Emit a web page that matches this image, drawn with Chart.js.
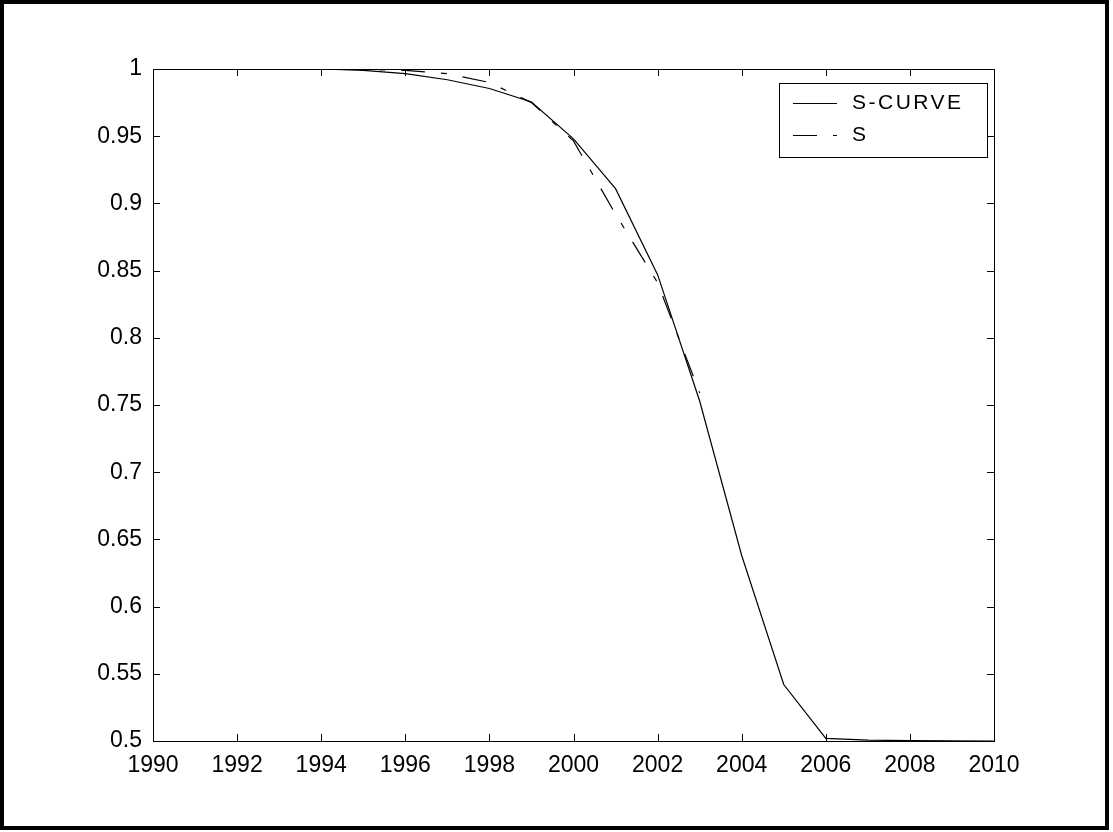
<!DOCTYPE html>
<html>
<head>
<meta charset="utf-8">
<script src="https://cdn.jsdelivr.net/npm/chart.js@4"></script>
<style>
  html, body { margin: 0; padding: 0; background: #fff; }
  #wrap { position: relative; width: 1113px; height: 832px; }
</style>
</head>
<body>
<div id="wrap"><canvas id="sChart"></canvas></div>
<script>
// values, one point per year
const years = [1990, 1991, 1992, 1993, 1994, 1995, 1996, 1997, 1998, 1999, 2000,
               2001, 2002, 2003, 2004, 2005, 2006, 2007, 2008, 2009, 2010];
const sCurve = [1.0, 1.0, 1.0, 1.0, 1.0, 0.999, 0.9965, 0.992, 0.9855, 0.9755, 0.948,
                0.911, 0.847, 0.753, 0.638, 0.542, 0.502, 0.5006, 0.5003, 0.5001, 0.5];
// the dashed series stops at 2003
const sValues = [1.0, 1.0, 1.0, 1.0, 1.0, 0.9998, 0.999, 0.9965, 0.990, 0.975, 0.9465,
                 0.892, 0.841, 0.759];
const xTicks = [1990, 1992, 1994, 1996, 1998, 2000, 2002, 2004, 2006, 2008, 2010];
const seriesNames = ['S-CURVE', 'S'];

const FONT = "'Liberation Sans', Arial, Helvetica, sans-serif";

function toPoints(xs, ys) {
  return ys.map((y, i) => ({ x: xs[i], y: y }));
}

// white page + thick black frame round the whole figure
const framePlugin = {
  id: 'frame',
  beforeDraw(chart) {
    const c = chart.ctx;
    c.save();
    c.fillStyle = '#fff';
    c.fillRect(0, 0, chart.width, chart.height);
    c.restore();
  },
  afterDraw(chart) {
    const c = chart.ctx;
    c.save();
    c.strokeStyle = '#000';
    c.lineWidth = 4;
    c.strokeRect(2, 2, 1105, 826);
    c.restore();
  }
};

// matlab style box with ticks pointing inward on all four sides
const boxPlugin = {
  id: 'axesBox',
  afterDatasetsDraw(chart) {
    const { ctx: c, chartArea: a, scales } = chart;
    const len = 7;
    c.save();
    c.strokeStyle = '#000';
    c.lineWidth = 1;
    c.strokeRect(a.left + 0.5, a.top + 0.5, a.right - a.left, a.bottom - a.top);
    c.beginPath();
    scales.x.ticks.forEach(t => {
      const px = Math.round(scales.x.getPixelForValue(t.value)) + 0.5;
      c.moveTo(px, a.bottom); c.lineTo(px, a.bottom - len);
      c.moveTo(px, a.top); c.lineTo(px, a.top + len);
    });
    scales.y.ticks.forEach(t => {
      const py = Math.round(scales.y.getPixelForValue(t.value)) + 0.5;
      c.moveTo(a.left, py); c.lineTo(a.left + len, py);
      c.moveTo(a.right, py); c.lineTo(a.right - len, py);
    });
    c.stroke();
    c.restore();
  }
};

// legend drawn as a boxed inset in the top right of the plot
const insetLegend = {
  id: 'insetLegend',
  afterDraw(chart) {
    const { ctx: c, chartArea: a } = chart;
    const w = 208, h = 74;
    const x0 = a.right - 7 - w, y0 = a.top + 14;
    c.save();
    c.fillStyle = '#fff';
    c.fillRect(x0, y0, w, h);
    c.strokeStyle = '#000';
    c.lineWidth = 1;
    c.strokeRect(x0 + 0.5, y0 + 0.5, w, h);
    c.font = '21px ' + FONT;
    c.letterSpacing = '2.5px';
    c.textBaseline = 'middle';
    c.fillStyle = '#000';
    chart.data.datasets.forEach((ds, i) => {
      const y = y0 + 20 + i * 32 + 0.5;
      c.setLineDash(ds.borderDash || []);
      c.beginPath();
      c.moveTo(x0 + 14, y);
      c.lineTo(x0 + 58, y);
      c.stroke();
      c.setLineDash([]);
      c.fillText(ds.label, x0 + 73, y);
    });
    c.restore();
  }
};

const ctx = document.getElementById('sChart').getContext('2d');
const sChart = new Chart(ctx, {
  type: 'line',
  data: {
    datasets: [{
      label: seriesNames[0],
      data: toPoints(years, sCurve),
      borderColor: '#000',
      borderWidth: 1.2,
      pointRadius: 0,
      tension: 0
    }, {
      label: seriesNames[1],
      data: toPoints(years, sValues),
      borderColor: '#000',
      borderWidth: 1.2,
      borderDash: [24, 16, 6, 16],
      pointRadius: 0,
      tension: 0
    }]
  },
  options: {
    responsive: true,
    maintainAspectRatio: false,
    animation: false,
    layout: { padding: { left: 0, top: 69, right: 119, bottom: 0 } },
    plugins: {
      legend: { display: false },
      tooltip: { enabled: false }
    },
    scales: {
      x: {
        type: 'linear',
        min: 1990,
        max: 2010,
        afterBuildTicks: s => { s.ticks = xTicks.map(v => ({ value: v })); },
        afterFit: s => { s.height = 91; },
        grid: { display: false, drawTicks: false },
        border: { display: false },
        ticks: {
          color: '#000',
          padding: 11,
          autoSkip: false,
          maxRotation: 0,
          font: { family: FONT, size: 23 },
          callback: v => String(v)
        }
      },
      y: {
        type: 'linear',
        min: 0.5,
        max: 1,
        afterFit: s => { s.width = 153; },
        grid: { display: false, drawTicks: false },
        border: { display: false },
        ticks: {
          color: '#000',
          padding: 11,
          stepSize: 0.05,
          font: { family: FONT, size: 23 },
          callback: v => String(+v.toFixed(2))
        }
      }
    }
  },
  plugins: [framePlugin, boxPlugin, insetLegend]
});
</script>
</body>
</html>
